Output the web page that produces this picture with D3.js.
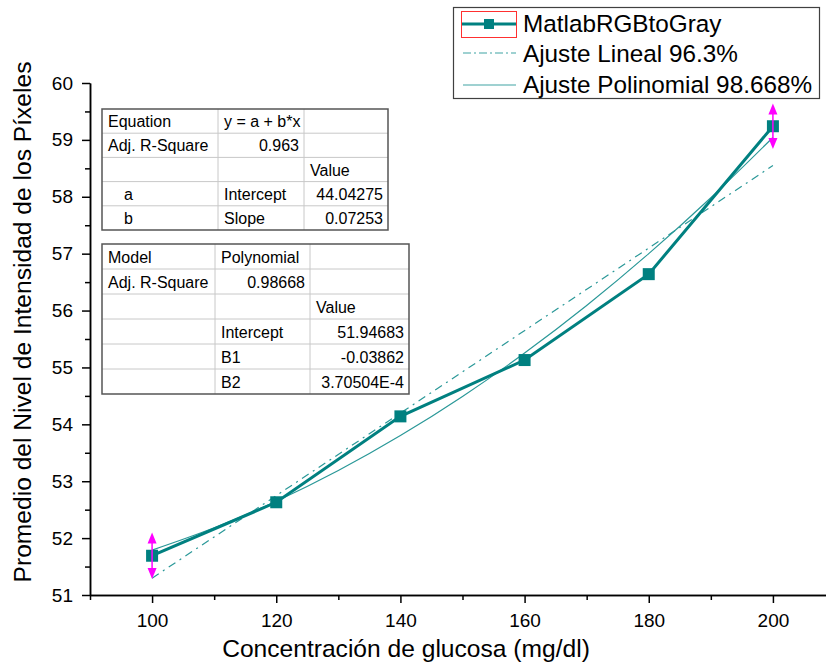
<!DOCTYPE html>
<html><head><meta charset="utf-8">
<script src="https://cdn.jsdelivr.net/npm/d3@7"></script>
<style>body{margin:0;background:#fff} svg{display:block;font-family:"Liberation Sans",Arial,sans-serif}</style>
</head><body>
<svg id="c" width="826" height="663"></svg>
<script>
// ---- data ----
const glucose = [100, 120, 140, 160, 180, 200];
const intensity = [51.69, 52.63, 54.14, 55.13, 56.64, 59.24];
const errorY = [0.41, 0, 0, 0, 0, 0.40];
const linearFitX = [100, 200];
const linearFitY = [51.296, 58.549];
const polyFitX = [100, 110, 120, 130, 140, 150, 160, 170, 180, 190, 200];
const polyFitY = [51.790, 52.182, 52.648, 53.188, 53.802, 54.490, 55.253, 56.089, 57.000, 57.984, 59.043];
const xTicks = [100, 120, 140, 160, 180, 200];
const xMinorTicks = [90, 110, 130, 150, 170, 190, 210];
const yTicks = [51, 52, 53, 54, 55, 56, 57, 58, 59, 60];
const yMinorTicks = [51.5, 52.5, 53.5, 54.5, 55.5, 56.5, 57.5, 58.5, 59.5];
const legendLabels = ["MatlabRGBtoGray", "Ajuste Lineal 96.3%", "Ajuste Polinomial 98.668%"];
const xTitle = "Concentración de glucosa (mg/dl)";
const yTitle = "Promedio del Nivel de Intensidad de los Píxeles";
const table1 = [
  ["Equation", "y = a + b*x", ""],
  ["Adj. R-Square", "0.963", ""],
  ["", "", "Value"],
  ["a", "Intercept", "44.04275"],
  ["b", "Slope", "0.07253"]
];
const table1Align = [["l","l","l"],["l","r","l"],["l","l","l"],["i","l","r"],["i","l","r"]];
const table2 = [
  ["Model", "Polynomial", ""],
  ["Adj. R-Square", "0.98668", ""],
  ["", "", "Value"],
  ["", "Intercept", "51.94683"],
  ["", "B1", "-0.03862"],
  ["", "B2", "3.70504E-4"]
];
const table2Align = [["l","l","l"],["l","r","l"],["l","l","l"],["l","l","r"],["l","l","r"],["l","l","r"]];

// ---- drawing ----
const svg = d3.select("#c");
const teal = "#008080", fitCol = "#2a9898", magenta = "#ff00ff";
const x = d3.scaleLinear().domain([90, 210]).range([90, 835]);
const y = d3.scaleLinear().domain([51, 60]).range([595, 83]);

// axes
const gx = svg.append("g").attr("transform", "translate(0,595)");
gx.call(d3.axisBottom(x).tickValues(xMinorTicks).tickSize(5).tickSizeOuter(0).tickFormat(""));
gx.append("g").call(d3.axisBottom(x).tickValues(xTicks).tickSize(8).tickPadding(11).tickSizeOuter(0));
const gy = svg.append("g").attr("transform", "translate(90,0)");
gy.call(d3.axisLeft(y).tickValues(yMinorTicks).tickSize(5).tickSizeOuter(0).tickFormat(""));
gy.append("g").call(d3.axisLeft(y).tickValues(yTicks).tickSize(8).tickPadding(9).tickSizeOuter(0));
svg.selectAll(".domain, .tick line").attr("stroke", "#000").attr("stroke-width", 1.5);
svg.selectAll(".tick text").attr("font-size", 19).attr("font-family", '"Liberation Sans",Arial,sans-serif').attr("fill", "#000");

// titles
svg.append("text").attr("x", 406).attr("y", 657).attr("text-anchor", "middle")
  .attr("font-size", 24.6).text(xTitle);
svg.append("text").attr("transform", "translate(31,322) rotate(-90)").attr("text-anchor", "middle")
  .attr("font-size", 24.6).text(yTitle);

// fit lines
const linePts = linearFitX.map((v, i) => [v, linearFitY[i]]);
const polyPts = polyFitX.map((v, i) => [v, polyFitY[i]]);
const lineGen = d3.line().x(d => x(d[0])).y(d => y(d[1]));
const curveGen = d3.line().x(d => x(d[0])).y(d => y(d[1])).curve(d3.curveMonotoneX);
svg.append("path").attr("d", lineGen(linePts)).attr("fill", "none").attr("stroke", fitCol)
  .attr("stroke-width", 1.2).attr("stroke-dasharray", "8,5,2,5");
svg.append("path").attr("d", curveGen(polyPts)).attr("fill", "none").attr("stroke", fitCol)
  .attr("stroke-width", 1.2);

// main series
const pts = glucose.map((v, i) => ({x: v, y: intensity[i], e: errorY[i]}));
svg.append("path").attr("d", d3.line().x(d => x(d.x)).y(d => y(d.y))(pts))
  .attr("fill", "none").attr("stroke", teal).attr("stroke-width", 3);
svg.selectAll("rect.pt").data(pts).enter().append("rect").attr("class", "pt")
  .attr("x", d => x(d.x) - 6).attr("y", d => y(d.y) - 6).attr("width", 12).attr("height", 12)
  .attr("fill", teal);

// error bars
const eb = svg.append("g");
pts.filter(d => d.e > 0).forEach(d => {
  const cx = x(d.x), top = y(d.y + d.e), bot = y(d.y - d.e);
  eb.append("line").attr("x1", cx).attr("x2", cx).attr("y1", top + 6).attr("y2", bot - 6)
    .attr("stroke", magenta).attr("stroke-width", 1.5);
  eb.append("path").attr("d", `M${cx},${top} L${cx - 4.5},${top + 11} L${cx + 4.5},${top + 11} Z`).attr("fill", magenta);
  eb.append("path").attr("d", `M${cx},${bot} L${cx - 4.5},${bot - 11} L${cx + 4.5},${bot - 11} Z`).attr("fill", magenta);
});

// legend
const lg = svg.append("g");
lg.append("rect").attr("x", 453.5).attr("y", 7.5).attr("width", 366).attr("height", 91)
  .attr("fill", "#fff").attr("stroke", "#404040").attr("stroke-width", 1.2);
const rowY = [24, 53, 85], rowBase = [32, 62, 93];
lg.append("line").attr("x1", 462).attr("x2", 517).attr("y1", rowY[0]).attr("y2", rowY[0])
  .attr("stroke", teal).attr("stroke-width", 3);
lg.append("rect").attr("x", 484).attr("y", rowY[0] - 5).attr("width", 10).attr("height", 10).attr("fill", teal);
lg.append("rect").attr("x", 461.5).attr("y", 11.5).attr("width", 55).attr("height", 26)
  .attr("fill", "none").attr("stroke", "#ff3030").attr("stroke-width", 1);
lg.append("line").attr("x1", 463).attr("x2", 516).attr("y1", rowY[1]).attr("y2", rowY[1])
  .attr("stroke", "#7fc2c2").attr("stroke-width", 1.3).attr("stroke-dasharray", "8,3,2,3");
lg.append("line").attr("x1", 463).attr("x2", 516).attr("y1", rowY[2]).attr("y2", rowY[2])
  .attr("stroke", "#7fc2c2").attr("stroke-width", 1.5);
legendLabels.forEach((t, i) => {
  lg.append("text").attr("x", 523).attr("y", rowBase[i]).attr("font-size", 24.3).attr("fill", "#000").text(t);
});

// tables
function drawTable(rows, aligns, x0, y0, cols, rowH) {
  const g = svg.append("g");
  const w = cols[cols.length - 1] - x0, h = rowH * rows.length;
  g.append("rect").attr("x", x0).attr("y", y0).attr("width", w).attr("height", h).attr("fill", "#fff");
  for (let r = 1; r < rows.length; r++) {
    g.append("line").attr("x1", x0).attr("x2", x0 + w).attr("y1", y0 + r * rowH).attr("y2", y0 + r * rowH)
      .attr("stroke", "#c8c8c8").attr("stroke-width", 1);
  }
  for (let c = 1; c < cols.length - 1; c++) {
    g.append("line").attr("x1", cols[c]).attr("x2", cols[c]).attr("y1", y0).attr("y2", y0 + h)
      .attr("stroke", "#c8c8c8").attr("stroke-width", 1);
  }
  rows.forEach((row, r) => {
    row.forEach((t, c) => {
      if (!t) return;
      const a = aligns[r][c];
      const left = c === 0 ? x0 : cols[c], right = cols[c + 1];
      const tx = a === "r" ? right - 5 : a === "i" ? left + 22 : left + 6;
      g.append("text").attr("x", tx).attr("y", y0 + r * rowH + rowH / 2 + 6)
        .attr("text-anchor", a === "r" ? "end" : "start").attr("font-size", 16).attr("fill", "#000").text(t);
    });
  });
  g.append("rect").attr("x", x0).attr("y", y0).attr("width", w).attr("height", h)
    .attr("fill", "none").attr("stroke", "#555").attr("stroke-width", 1.5);
}
drawTable(table1, table1Align, 102, 109, [102, 218, 304, 388], 24.2);
drawTable(table2, table2Align, 102, 244, [102, 215, 310, 409], 25);
</script>
</body></html>
